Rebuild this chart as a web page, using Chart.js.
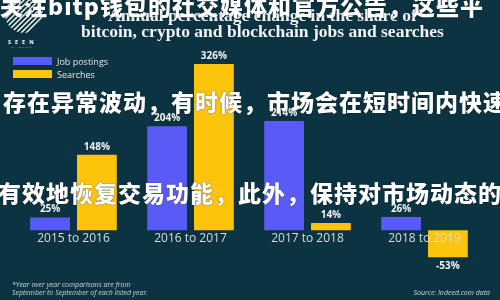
<!DOCTYPE html>
<html><head><meta charset="utf-8">
<script src="https://cdn.jsdelivr.net/npm/chart.js@4"></script>
<style>
html,body{margin:0;padding:0;background:#0b3341;}
#wrap{position:relative;width:500px;height:300px;overflow:hidden;background:#0b3341;font-family:"Open Sans",sans-serif;}
canvas{position:absolute;left:0;top:0;}
.t{position:absolute;color:#fff;white-space:nowrap;}
.title{font-family:"Liberation Serif",serif;font-weight:bold;font-size:17.5px;left:0;width:525px;text-align:center;color:#f4f4f4;}
.leg{font-size:9px;color:#e8e8e8;}
.sw{position:absolute;width:39px;height:8px;}
.foot{font-size:7px;font-style:italic;color:#cfd6d8;}
.wm{font-family:"Noto Sans CJK SC",sans-serif;font-weight:900;font-size:23px;color:#fff;left:0;letter-spacing:1px;text-shadow:0 0 1px #000;}
</style></head><body>
<div id="wrap">
<canvas id="c" width="500" height="300"></canvas>
<svg class="t" style="left:2px;top:-8px" width="44" height="44" viewBox="0 0 44 44">
<defs><clipPath id="cp"><circle cx="22" cy="22" r="19"/></clipPath></defs>
<g clip-path="url(#cp)" stroke="#fff" stroke-width="1.4">
<line x1="0" y1="10" x2="34" y2="-24"/><line x1="0" y1="15" x2="40" y2="-25"/><line x1="0" y1="20" x2="44" y2="-24"/>
<line x1="0" y1="25" x2="44" y2="-19"/><line x1="0" y1="30" x2="44" y2="-14"/><line x1="0" y1="35" x2="44" y2="-9"/>
<line x1="0" y1="40" x2="44" y2="-4"/><line x1="0" y1="45" x2="44" y2="1"/><line x1="0" y1="50" x2="44" y2="6"/>
<line x1="0" y1="55" x2="44" y2="11"/><line x1="0" y1="60" x2="44" y2="16"/><line x1="0" y1="65" x2="44" y2="21"/>
</g></svg>
<div class="t" style="left:8px;top:38px;font-size:5.5px;font-weight:bold;letter-spacing:4px;">SEEN</div>
<div class="t" style="left:11px;top:45px;font-size:2.5px;letter-spacing:1px;color:#aaa;">BY INDEED</div>
<div class="t title" style="top:5px;">Annual percentage change in the share of</div>
<div class="t title" style="top:21px;">bitcoin, crypto and blockchain jobs and searches</div>
<div class="sw" style="left:13px;top:57px;background:#585bf6;"></div>
<div class="t leg" style="left:57px;top:55px;">Job postings</div>
<div class="sw" style="left:13px;top:70px;background:#fdc40c;"></div>
<div class="t leg" style="left:57px;top:68px;">Searches</div>
<div class="t foot" style="left:12px;top:280px;">*Year over year comparisons are from</div>
<div class="t foot" style="left:12px;top:288px;">September to September of each listed year.</div>
<div class="t foot" style="right:10px;top:288px;">Source: Indeed.com data</div>
<div class="t wm" style="top:-12px;">关注bitp钱包的社交媒体和官方公告，这些平</div>
<div class="t wm" style="top:84px;left:3px;">存在异常波动，有时候，市场会在短时间内快速</div>
<div class="t wm" style="top:175px;left:-2px;">有效地恢复交易功能，此外，保持对市场动态的</div>
</div>
<script>
const categories = ["2015 to 2016","2016 to 2017","2017 to 2018","2018 to 2019"];
const jobPostings = [25, 204, 214, 26];
const searches = [148, 326, 14, -53];
const seriesNames = ["Job postings","Searches"];

const valueLabels = {
  id:'valueLabels',
  afterDatasetsDraw(chart){
    const ctx = chart.ctx;
    ctx.save();
    ctx.font = 'bold 10px "Open Sans", sans-serif';
    ctx.fillStyle = '#f2f2f2';
    ctx.textAlign = 'center';
    chart.data.datasets.forEach((ds,i)=>{
      chart.getDatasetMeta(i).data.forEach((bar,j)=>{
        const v = ds.data[j];
        if(v>=0){ctx.textBaseline='bottom';ctx.fillText(v+'%',bar.x,bar.y-3);}
        else{ctx.textBaseline='top';ctx.fillText(v+'%',bar.x,bar.y+4);}
      });
    });
    ctx.font = '12px "Open Sans", sans-serif';
    ctx.fillStyle = '#d8dde0';
    ctx.textBaseline = 'top';
    const y0 = chart.scales.y.getPixelForValue(0);
    categories.forEach((c,j)=>{
      ctx.fillText(c, chart.scales.x.getPixelForValue(j), y0+2);
    });
    ctx.restore();
  }
};

new Chart(document.getElementById('c'),{
  type:'bar',
  data:{labels:categories,datasets:[
    {label:seriesNames[0],data:jobPostings,backgroundColor:'#585bf6',categoryPercentage:0.8,barPercentage:0.85},
    {label:seriesNames[1],data:searches,backgroundColor:'#fdc40c',categoryPercentage:0.8,barPercentage:0.85}
  ]},
  options:{
    responsive:false,animation:false,
    layout:{padding:{left:15,right:17,top:64,bottom:29}},
    plugins:{legend:{display:false},tooltip:{enabled:false}},
    scales:{
      x:{display:false},
      y:{display:false,min:-80,max:326}
    }
  },
  plugins:[valueLabels]
});
</script>
</body></html>
